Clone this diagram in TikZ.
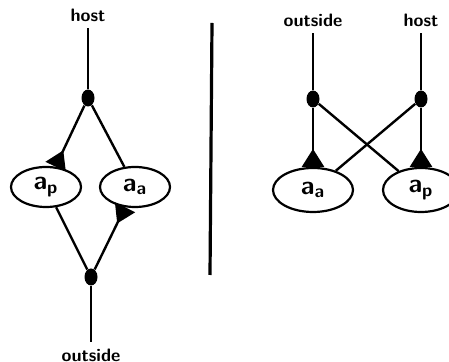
\documentclass[tikz,border=0pt]{standalone}
\usepackage{amsmath}
\usetikzlibrary{shapes.geometric,arrows.meta}
\newcommand{\sublbl}[2]{$\textsf{\textbf{#1}}_{\textsf{\textbf{#2}}}$}
\begin{document}
\begin{tikzpicture}[
    x=0.5pt, y=-0.5pt,
    vnode/.style={
        ellipse, draw, line width=1.1pt,
        minimum width=35pt, minimum height=20pt, inner sep=0pt,
        font=\fontsize{13}{15}\selectfont
    },
    joint/.style={ellipse, fill=black, minimum width=6.5pt, minimum height=8.5pt, inner sep=0pt},
    lbl/.style={font=\sffamily\bfseries\small},
    wire/.style={line width=1.2pt},
    gate/.style={wire, {Triangle[reversed, length=9pt, width=11pt]}-},
]
\useasboundingbox (0,0) rectangle (449,362);

% left: host on top, outside below
\node [lbl] (hostL) at (88,15) {host};
\node [joint] (j1) at (88,98) {};
\node [vnode] (ap1) at (46,187) {\sublbl{a}{p}};
\node [vnode] (aa1) at (135,187) {\sublbl{a}{a}};
\node [joint] (j2) at (91,277) {};
\node [lbl] (outL) at (91,355) {outside};

\draw[wire] (hostL) -- (j1);
\draw[gate] (ap1) -- (j1);
\draw[wire] (j1) -- (aa1);
\draw[wire] (ap1) -- (j2);
\draw[gate] (aa1) -- (j2);
\draw[wire] (j2) -- (outL);

% separator
\coordinate (sepT) at (212,23);
\coordinate (sepB) at (210,275);
\draw[line width=1.6pt] (sepT) -- (sepB);

% right: crossed
\node [lbl] (outR) at (313,20) {outside};
\node [lbl] (hostR) at (421,20) {host};
\node [joint] (j3) at (313,99) {};
\node [joint] (j4) at (421,99) {};
\node [vnode, minimum width=40pt, minimum height=22pt] (aa2) at (313,190) {\sublbl{a}{a}};
\node [vnode, minimum width=38pt, minimum height=22pt] (ap2) at (421,190) {\sublbl{a}{p}};

\draw[wire] (outR) -- (j3);
\draw[wire] (hostR) -- (j4);
\draw[gate] (aa2) -- (j3);
\draw[gate] (ap2) -- (j4);
\draw[wire] (j3) -- (ap2);
\draw[wire] (j4) -- (aa2);

\end{tikzpicture}
\end{document}
